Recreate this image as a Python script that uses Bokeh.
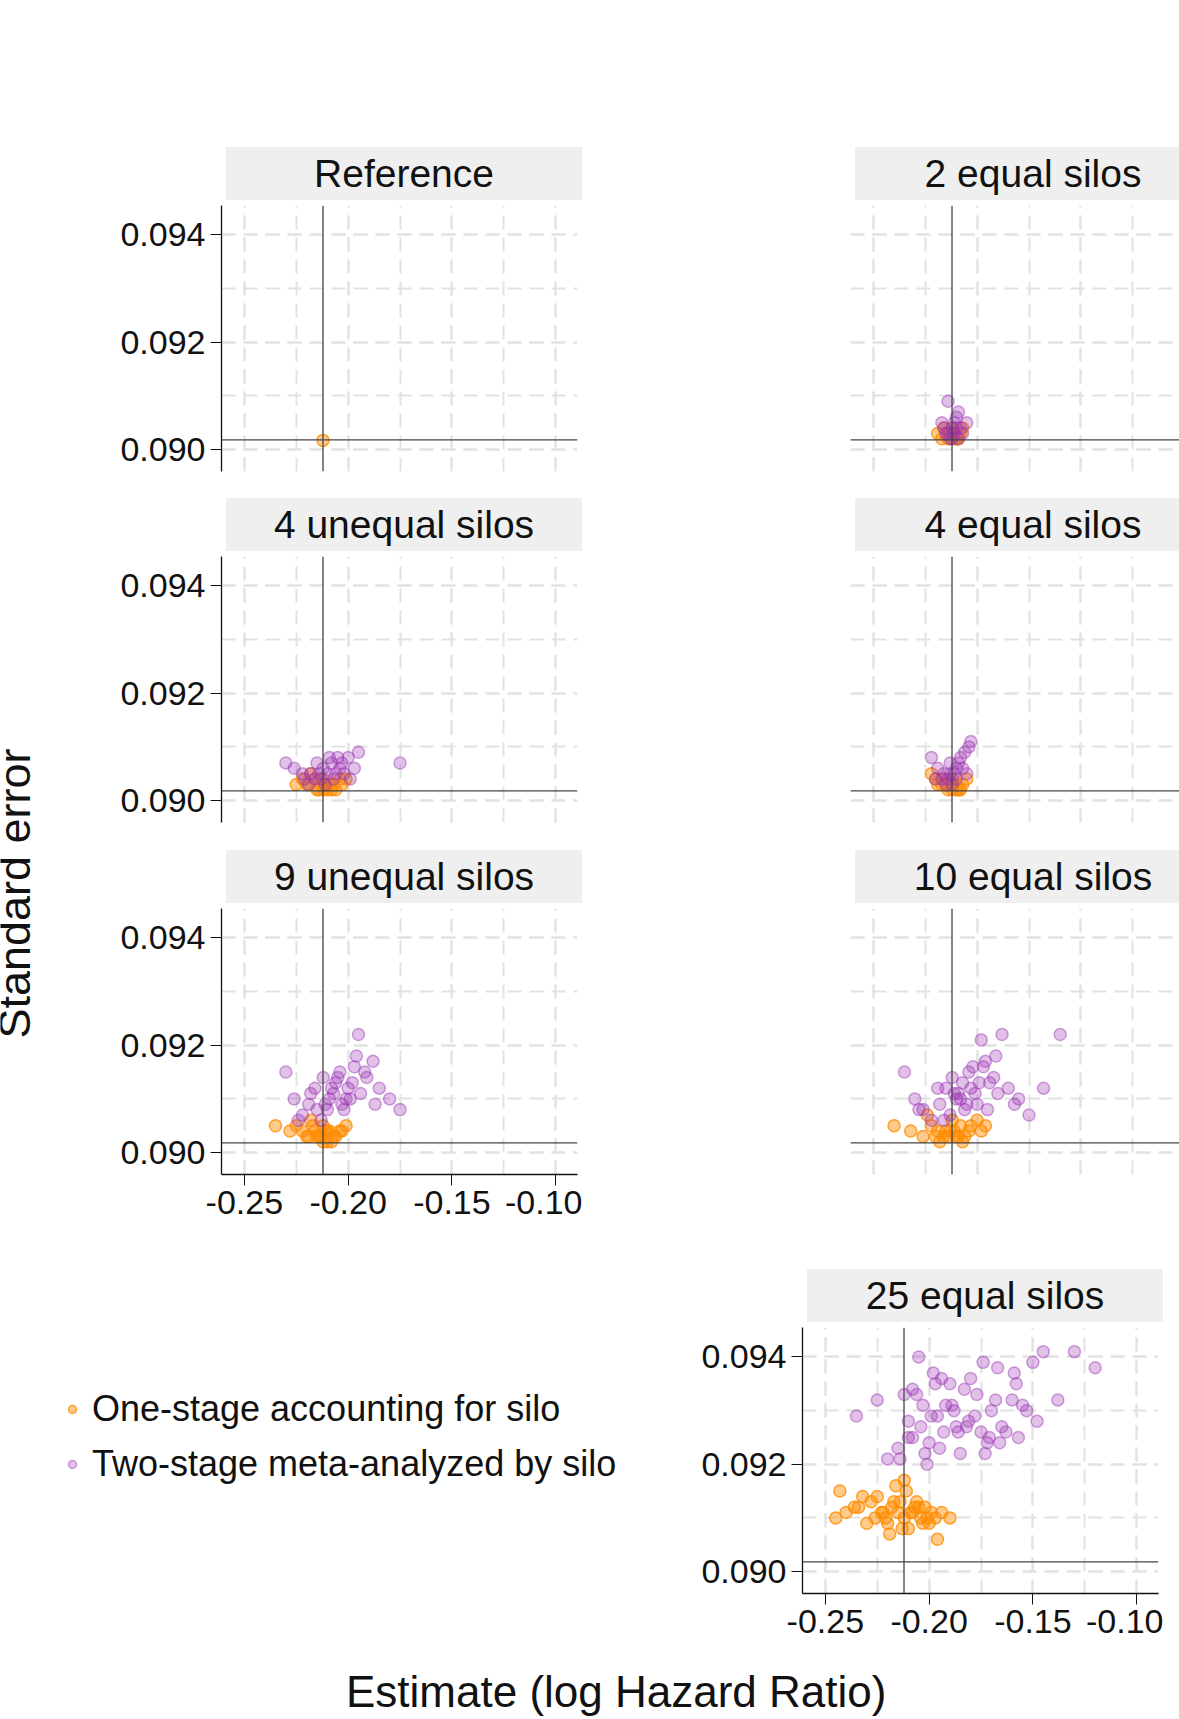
import math
from bokeh.plotting import figure
from bokeh.layouts import column, row
from bokeh.models import Div, Spacer, Span, Label, Legend, LegendItem, FixedTicker, NumeralTickFormatter, Range1d
from bokeh.embed import file_html
from bokeh.resources import INLINE

S = 1179 / 1080.0
def s(v): return int(round(v * S))

FONT = "Liberation Sans"
ORANGE = "#ff8c00"
PURPLE = "#9a32b4"
REF_X = -0.2121
REF_Y = 0.09018
XTICKS = [-0.25, -0.20, -0.15, -0.10]
YTICKS = [0.090, 0.092, 0.094]

titles = ["Reference", "2 equal silos", "4 unequal silos", "4 equal silos",
          "9 unequal silos", "10 equal silos", "25 equal silos"]

one_x = {
 "Reference": [-0.2121],
 "2 equal silos": [-0.219,-0.216,-0.207,-0.210,-0.213,-0.214,-0.211,-0.209,-0.212,-0.215,-0.208,-0.217,-0.212,-0.210],
 "4 unequal silos": [-0.225,-0.222,-0.219,-0.216,-0.213,-0.210,-0.207,-0.204,-0.201,-0.214,-0.211,-0.208,-0.218,-0.212,-0.209,-0.215,-0.206,-0.220,-0.203,-0.212],
 "4 equal silos": [-0.222,-0.219,-0.216,-0.213,-0.210,-0.207,-0.205,-0.214,-0.211,-0.208,-0.217,-0.212,-0.209,-0.215,-0.220,-0.212],
 "9 unequal silos": [-0.235,-0.228,-0.225,-0.222,-0.219,-0.216,-0.213,-0.210,-0.207,-0.204,-0.201,-0.214,-0.211,-0.208,-0.218,-0.212,-0.209,-0.215,-0.206,-0.220,-0.203,-0.212,-0.217,-0.210],
 "10 equal silos": [-0.240,-0.232,-0.226,-0.222,-0.219,-0.216,-0.213,-0.210,-0.207,-0.204,-0.200,-0.196,-0.214,-0.211,-0.208,-0.218,-0.212,-0.209,-0.215,-0.206,-0.220,-0.203,-0.224,-0.198],
 "25 equal silos": [-0.245,-0.243,-0.240,-0.236,-0.232,-0.228,-0.226,-0.223,-0.220,-0.218,-0.216,-0.214,-0.212,-0.210,-0.208,-0.206,-0.204,-0.202,-0.200,-0.197,-0.194,-0.190,-0.230,-0.225,-0.219,-0.215,-0.211,-0.207,-0.203,-0.199,-0.234,-0.221,-0.213,-0.209,-0.205,-0.201,-0.217,-0.212,-0.222,-0.196],
}
one_y = {
 "Reference": [0.09017],
 "2 equal silos": [0.0903,0.0904,0.0904,0.0902,0.0903,0.0902,0.0903,0.0902,0.0902,0.0903,0.0903,0.0902,0.0904,0.0902],
 "4 unequal silos": [0.0903,0.0904,0.0903,0.0904,0.0903,0.0902,0.0903,0.0904,0.0904,0.0902,0.0903,0.0902,0.0905,0.0904,0.0903,0.0902,0.0902,0.0903,0.0903,0.0902],
 "4 equal silos": [0.0905,0.0903,0.0904,0.0903,0.0902,0.0903,0.0904,0.0902,0.0903,0.0902,0.0903,0.0904,0.0902,0.0903,0.0904,0.0902],
 "9 unequal silos": [0.0905,0.0904,0.0905,0.0904,0.0903,0.0904,0.0903,0.0902,0.0903,0.0904,0.0905,0.0903,0.0904,0.0902,0.0906,0.0905,0.0904,0.0903,0.0903,0.0903,0.0904,0.0902,0.0905,0.0904],
 "10 equal silos": [0.0905,0.0904,0.0903,0.0905,0.0904,0.0903,0.0904,0.0903,0.0902,0.0904,0.0906,0.0905,0.0903,0.0904,0.0905,0.0902,0.0906,0.0903,0.0904,0.0903,0.0903,0.0905,0.0907,0.0904],
 "25 equal silos": [0.0910,0.0915,0.0911,0.0912,0.0914,0.0913,0.0910,0.0911,0.0909,0.0912,0.0916,0.0913,0.0910,0.0908,0.0911,0.0913,0.0910,0.0912,0.0909,0.0910,0.0911,0.0910,0.0909,0.0914,0.0907,0.0911,0.0915,0.0912,0.0909,0.0911,0.0912,0.0910,0.0908,0.0911,0.0912,0.0910,0.0913,0.0917,0.0911,0.0906],
}
two_x = {
 "Reference": [],
 "2 equal silos": [-0.214,-0.209,-0.217,-0.205,-0.210,-0.212,-0.215,-0.208,-0.211,-0.213,-0.210,-0.216,-0.207,-0.212,-0.214,-0.209,-0.211],
 "4 unequal silos": [-0.230,-0.226,-0.222,-0.218,-0.215,-0.212,-0.209,-0.206,-0.203,-0.200,-0.197,-0.195,-0.175,-0.213,-0.210,-0.207,-0.204,-0.216,-0.219,-0.211,-0.208,-0.202,-0.199,-0.214,-0.221,-0.205],
 "4 equal silos": [-0.222,-0.219,-0.216,-0.213,-0.210,-0.208,-0.206,-0.204,-0.203,-0.214,-0.211,-0.209,-0.217,-0.212,-0.207,-0.215,-0.220,-0.205,-0.210,-0.213],
 "9 unequal silos": [-0.230,-0.226,-0.222,-0.218,-0.215,-0.212,-0.209,-0.206,-0.203,-0.200,-0.197,-0.194,-0.191,-0.188,-0.185,-0.180,-0.175,-0.213,-0.210,-0.207,-0.204,-0.201,-0.198,-0.195,-0.219,-0.216,-0.192,-0.202,-0.196,-0.208,-0.224,-0.199,-0.205,-0.211,-0.187],
 "10 equal silos": [-0.235,-0.230,-0.226,-0.222,-0.218,-0.215,-0.212,-0.209,-0.206,-0.203,-0.200,-0.197,-0.194,-0.191,-0.188,-0.185,-0.180,-0.175,-0.168,-0.160,-0.213,-0.210,-0.207,-0.204,-0.201,-0.198,-0.195,-0.219,-0.216,-0.192,-0.202,-0.196,-0.208,-0.228,-0.199,-0.205,-0.211,-0.182,-0.190],
 "25 equal silos": [-0.235,-0.225,-0.220,-0.215,-0.212,-0.210,-0.208,-0.205,-0.203,-0.200,-0.198,-0.196,-0.193,-0.190,-0.188,-0.185,-0.182,-0.180,-0.177,-0.175,-0.172,-0.170,-0.167,-0.165,-0.160,-0.157,-0.155,-0.150,-0.145,-0.138,-0.130,-0.120,-0.210,-0.206,-0.202,-0.199,-0.195,-0.192,-0.187,-0.183,-0.178,-0.173,-0.168,-0.163,-0.158,-0.153,-0.204,-0.197,-0.189,-0.181,-0.174,-0.166,-0.159,-0.148,-0.214,-0.201,-0.186,-0.171,-0.208,-0.194],
}
two_y = {
 "Reference": [],
 "2 equal silos": [0.0909,0.0907,0.0905,0.0905,0.0906,0.0904,0.0903,0.0904,0.0903,0.0902,0.0904,0.0904,0.0903,0.0902,0.0903,0.0902,0.0905],
 "4 unequal silos": [0.0907,0.0906,0.0905,0.0905,0.0907,0.0906,0.0908,0.0905,0.0907,0.0908,0.0906,0.0909,0.0907,0.0904,0.0905,0.0904,0.0906,0.0904,0.0903,0.0903,0.0907,0.0905,0.0904,0.0905,0.0904,0.0908],
 "4 equal silos": [0.0908,0.0906,0.0905,0.0907,0.0906,0.0908,0.0909,0.0910,0.0911,0.0904,0.0905,0.0907,0.0904,0.0903,0.0906,0.0903,0.0904,0.0905,0.0904,0.0905],
 "9 unequal silos": [0.0915,0.0910,0.0907,0.0911,0.0908,0.0914,0.0910,0.0913,0.0909,0.0912,0.0916,0.0911,0.0914,0.0917,0.0912,0.0910,0.0908,0.0906,0.0908,0.0911,0.0915,0.0910,0.0913,0.0922,0.0909,0.0912,0.0915,0.0908,0.0918,0.0912,0.0906,0.0910,0.0914,0.0909,0.0909],
 "10 equal silos": [0.0915,0.0910,0.0908,0.0906,0.0909,0.0912,0.0914,0.0911,0.0908,0.0912,0.0909,0.0916,0.0913,0.0918,0.0922,0.0912,0.0910,0.0907,0.0912,0.0922,0.0907,0.0910,0.0913,0.0915,0.0911,0.0921,0.0908,0.0912,0.0906,0.0914,0.0916,0.0917,0.0910,0.0908,0.0913,0.0909,0.0911,0.0909,0.0911],
 "25 equal silos": [0.0929,0.0932,0.0921,0.0923,0.0933,0.0928,0.0925,0.0940,0.0931,0.0924,0.0937,0.0929,0.0926,0.0935,0.0930,0.0922,0.0927,0.0936,0.0933,0.0926,0.0924,0.0930,0.0938,0.0927,0.0932,0.0925,0.0931,0.0939,0.0941,0.0932,0.0941,0.0938,0.0925,0.0933,0.0922,0.0929,0.0923,0.0931,0.0927,0.0934,0.0929,0.0922,0.0932,0.0926,0.0935,0.0930,0.0927,0.0935,0.0931,0.0928,0.0939,0.0924,0.0937,0.0928,0.0921,0.0920,0.0926,0.0925,0.0934,0.0936],
}

FW, FH = s(326), s(244)
MBL = s(162)

def strip(title):
    d = Div(text=title, width=FW, height=s(49), styles={
        "background-color": "#efefef", "font-family": FONT, "font-size": f"{s(36)}px",
        "text-align": "center", "line-height": f"{s(49)}px", "color": "#111",
        "box-sizing": "border-box", "width": f"{FW}px", "height": f"{s(49)}px"})
    return row(Spacer(width=MBL, height=s(49)), d)

def panel(title, xaxis, ylabels, bottom):
    p = figure(frame_width=FW, frame_height=FH, output_backend="svg", toolbar_location=None,
               x_range=Range1d(-0.261, -0.0895), y_range=Range1d(0.08959, 0.09455),
               min_border_left=MBL, min_border_right=s(5), min_border_top=0, min_border_bottom=bottom,
               outline_line_color=None, background_fill_color="white")
    p.xaxis.ticker = FixedTicker(ticks=XTICKS, minor_ticks=[-0.25 + 0.025 * i for i in range(7)])
    p.yaxis.ticker = FixedTicker(ticks=YTICKS, minor_ticks=[0.090, 0.091, 0.092, 0.093, 0.094])
    for g in (p.xgrid, p.ygrid):
        g.grid_line_color = "#e2e2e2"; g.grid_line_dash = "14 8"; g.grid_line_width = 2
        g.minor_grid_line_color = "#e2e2e2"; g.minor_grid_line_dash = "14 8"; g.minor_grid_line_width = 2
    for ax in (p.xaxis, p.yaxis):
        ax.axis_line_color = "#111"; ax.axis_line_width = 1.3
        ax.major_tick_line_color = "#111"; ax.major_tick_out = s(10); ax.major_tick_in = 0
        ax.minor_tick_line_color = None
        ax.major_label_text_font = FONT; ax.major_label_text_font_size = f"{s(31)}px"
        ax.major_label_text_color = "#111"
    p.xaxis.formatter = NumeralTickFormatter(format="0.00")
    p.yaxis.formatter = NumeralTickFormatter(format="0.000")
    p.xaxis.visible = xaxis
    p.yaxis.visible = ylabels
    p.add_layout(Span(location=REF_X, dimension="height", line_color="#444", line_width=1.3))
    p.add_layout(Span(location=REF_Y, dimension="width", line_color="#444", line_width=1.3))
    p.scatter(one_x[title], one_y[title], size=s(11), fill_color=ORANGE, fill_alpha=0.45,
              line_color=ORANGE, line_alpha=0.8, line_width=1.5)
    if two_x[title]:
        p.scatter(two_x[title], two_y[title], size=s(11), fill_color=PURPLE, fill_alpha=0.3,
                  line_color=PURPLE, line_alpha=0.45, line_width=1.5)
    return column(strip(title), p, spacing=0)

GAP = s(79)
r1 = row(panel(titles[0], False, True, s(20)), Spacer(width=GAP), panel(titles[1], False, False, s(20)))
r2 = row(panel(titles[2], False, True, s(21)), Spacer(width=GAP), panel(titles[3], False, False, s(21)))
r3 = row(panel(titles[4], True, True, s(82)), Spacer(width=GAP), panel(titles[5], False, False, s(82)))

# legend figure
lg = figure(width=s(532), height=s(49 + 244 + 60), output_backend="svg", toolbar_location=None,
            outline_line_color=None, min_border=0, x_range=Range1d(0, 1), y_range=Range1d(0, 1))
lg.axis.visible = False
lg.grid.visible = False
hidden_x = [-10.0]
hidden_y = [-10.0]
r_o = lg.scatter(hidden_x, hidden_y, size=s(11), fill_color=ORANGE, fill_alpha=0.45, line_color=ORANGE, line_alpha=0.8, line_width=1.5)
r_p = lg.scatter(hidden_x, hidden_y, size=s(11), fill_color=PURPLE, fill_alpha=0.3, line_color=PURPLE, line_alpha=0.45, line_width=1.5)
leg = Legend(items=[LegendItem(label="One-stage accounting for silo", renderers=[r_o]),
                    LegendItem(label="Two-stage meta-analyzed by silo", renderers=[r_p])],
             location=(s(14), s(150)), label_text_font=FONT, label_text_font_size=f"{s(33)}px",
             label_text_color="#111",
             border_line_color=None, background_fill_alpha=0, spacing=s(12), glyph_width=s(24),
             label_standoff=s(6))
lg.add_layout(leg, "center")

r4 = row(lg, panel(titles[6], True, True, s(60)))

body = column(Spacer(height=s(137) - 8), r1, r2, r3, r4)

xt = Div(text="Estimate (log Hazard Ratio)", width=s(1075), height=s(50), styles={
    "font-family": FONT, "font-size": f"{s(40)}px", "color": "#111", "line-height": f"{s(50)}px",
    "padding-left": f"{s(312)}px", "white-space": "nowrap"})

YT_H = s(1515)
yt = figure(width=s(40), height=YT_H, output_backend="svg", toolbar_location=None,
            outline_line_color=None, min_border=0, x_range=Range1d(0, 1), y_range=Range1d(0, 1))
yt.axis.visible = False
yt.grid.visible = False
yt.add_layout(Label(x=s(36), y=YT_H - s(825) + 8, x_units="screen", y_units="screen",
                    text="Standard error", angle=math.pi / 2, text_align="center",
                    text_font=FONT, text_font_size=f"{s(41)}px", text_color="#111"))

page = column(row(yt, body), xt)
open("out.html", "w").write(file_html(page, INLINE))
